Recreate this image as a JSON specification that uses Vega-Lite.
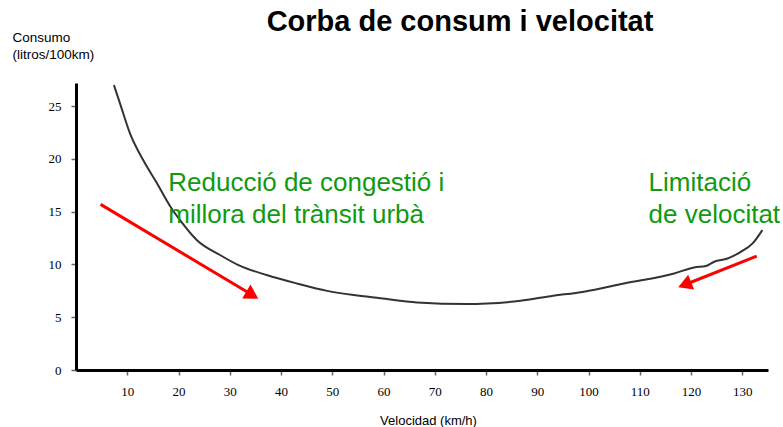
{
  "$schema": "https://vega.github.io/schema/vega-lite/v6.json",
  "width": 692,
  "height": 287,
  "autosize": "none",
  "padding": {"left": 76, "top": 83, "right": 15, "bottom": 57},
  "background": "white",
  "title": {
    "text": "Corba de consum i velocitat",
    "font": "Liberation Sans",
    "fontSize": 29,
    "fontWeight": "bold",
    "color": "black",
    "anchor": "middle",
    "frame": "group",
    "dx": 38,
    "offset": -7
  },
  "datasets": {
    "curve": [
      {"v": 7.4, "c": 27.0},
      {"v": 8.6, "c": 25.25},
      {"v": 10.55, "c": 22.4},
      {"v": 13.1, "c": 19.9},
      {"v": 15.8, "c": 17.7},
      {"v": 18.4, "c": 15.5},
      {"v": 20.3, "c": 14.2},
      {"v": 23.6, "c": 12.3},
      {"v": 28.1, "c": 10.9},
      {"v": 31.7, "c": 9.94},
      {"v": 37.2, "c": 9.0},
      {"v": 43.1, "c": 8.2},
      {"v": 49.0, "c": 7.5},
      {"v": 54.2, "c": 7.1},
      {"v": 59.4, "c": 6.8},
      {"v": 66.5, "c": 6.4},
      {"v": 76.3, "c": 6.25},
      {"v": 80.2, "c": 6.3},
      {"v": 86.7, "c": 6.56},
      {"v": 92.6, "c": 7.0},
      {"v": 99.1, "c": 7.42},
      {"v": 106.9, "c": 8.2},
      {"v": 116.7, "c": 9.15},
      {"v": 120.6, "c": 9.72},
      {"v": 122.9, "c": 9.85},
      {"v": 124.5, "c": 10.26},
      {"v": 127.1, "c": 10.57},
      {"v": 129.7, "c": 11.2},
      {"v": 132.0, "c": 12.0},
      {"v": 133.9, "c": 13.26}
    ],
    "arrowLeft": [{"x1": 4.8, "y1": 15.7, "x2": 34.4, "y2": 7.1}],
    "arrowRight": [{"x1": 132.8, "y1": 10.8, "x2": 118.75, "y2": 8.08}],
    "labels": [
      {"v": 18.0, "c": 16.95, "t": ["Reducció de congestió i", "millora del trànsit urbà"]},
      {"v": 111.7, "c": 16.95, "t": ["Limitació", "de velocitat"]}
    ]
  },
  "layer": [
    {
      "data": {"name": "curve"},
      "mark": {"type": "line", "color": "#333333", "strokeWidth": 2, "interpolate": "monotone", "clip": false},
      "encoding": {
        "x": {
          "field": "v", "type": "quantitative",
          "scale": {"domain": [0, 135], "nice": false, "zero": false},
          "axis": {
            "values": [10, 20, 30, 40, 50, 60, 70, 80, 90, 100, 110, 120, 130],
            "grid": false,
            "domainColor": "black", "domainWidth": 3,
            "tickColor": "#666666", "tickWidth": 1.5, "tickSize": 5, "tickOffset": 0,
            "labelFont": "Liberation Serif", "labelFontSize": 13, "labelColor": "black",
            "labelPadding": 10, "labelFlush": false,
            "title": "Velocidad (km/h)",
            "titleFont": "Liberation Sans", "titleFontSize": 13, "titleFontWeight": "normal",
            "titleColor": "black",
            "titleX": 352, "titleY": 50, "titleAlign": "center", "titleBaseline": "middle"
          }
        },
        "y": {
          "field": "c", "type": "quantitative",
          "scale": {"domain": [0, 27.2], "nice": false, "zero": true},
          "axis": {
            "values": [0, 5, 10, 15, 20, 25],
            "grid": false,
            "domainColor": "black", "domainWidth": 3,
            "tickColor": "#666666", "tickWidth": 1.5, "tickSize": 5,
            "labelFont": "Liberation Serif", "labelFontSize": 13, "labelColor": "black",
            "labelPadding": 10, "labelFlush": false,
            "title": ["Consumo", "(litros/100km)"],
            "titleFont": "Liberation Sans", "titleFontSize": 13.5, "titleFontWeight": "normal",
            "titleColor": "black", "titleAngle": 0, "titleAlign": "left", "titleBaseline": "alphabetic",
            "titleLineHeight": 17,
            "titleX": -64, "titleY": -42
          }
        }
      }
    },
    {
      "data": {"name": "arrowLeft"},
      "mark": {"type": "rule", "color": "#ff0000", "strokeWidth": 3},
      "encoding": {
        "x": {"field": "x1", "type": "quantitative"},
        "y": {"field": "y1", "type": "quantitative"},
        "x2": {"field": "x2"},
        "y2": {"field": "y2"}
      }
    },
    {
      "data": {"name": "arrowLeft"},
      "mark": {"type": "point", "shape": "triangle-right", "filled": true, "color": "#ff0000", "opacity": 1, "size": 260, "angle": 31},
      "encoding": {
        "x": {"field": "x2", "type": "quantitative"},
        "y": {"field": "y2", "type": "quantitative"}
      }
    },
    {
      "data": {"name": "arrowRight"},
      "mark": {"type": "rule", "color": "#ff0000", "strokeWidth": 3},
      "encoding": {
        "x": {"field": "x1", "type": "quantitative"},
        "y": {"field": "y1", "type": "quantitative"},
        "x2": {"field": "x2"},
        "y2": {"field": "y2"}
      }
    },
    {
      "data": {"name": "arrowRight"},
      "mark": {"type": "point", "shape": "triangle-right", "filled": true, "color": "#ff0000", "opacity": 1, "size": 260, "angle": 158},
      "encoding": {
        "x": {"field": "x2", "type": "quantitative"},
        "y": {"field": "y2", "type": "quantitative"}
      }
    },
    {
      "data": {"name": "labels"},
      "mark": {"type": "text", "align": "left", "baseline": "alphabetic", "font": "Liberation Sans", "fontSize": 26, "color": "#109a10", "lineHeight": 32},
      "encoding": {
        "x": {"field": "v", "type": "quantitative"},
        "y": {"field": "c", "type": "quantitative"},
        "text": {"field": "t"}
      }
    }
  ],
  "config": {"view": {"stroke": null}}
}
